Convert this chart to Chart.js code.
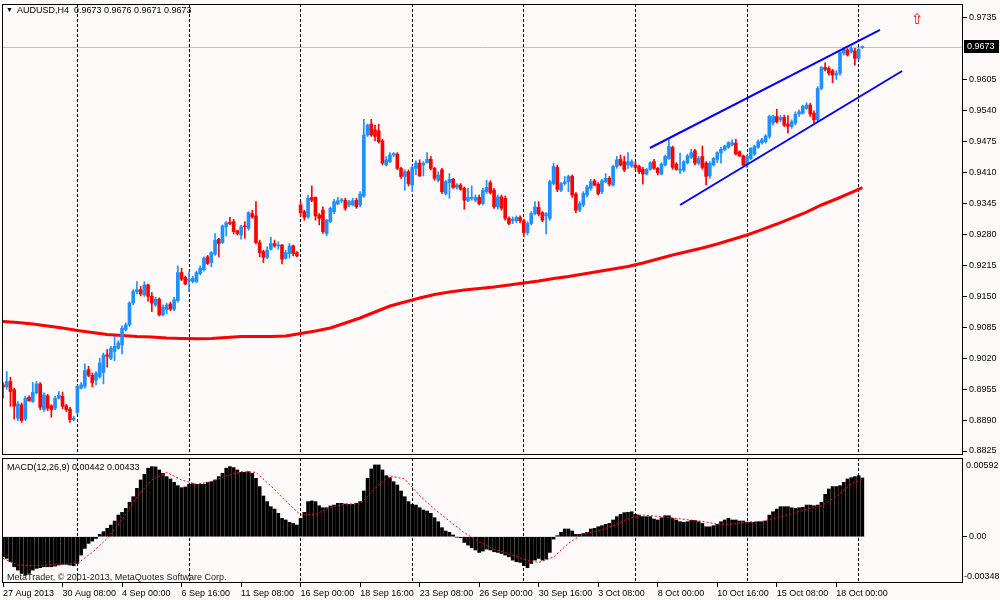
<!DOCTYPE html>
<html>
<head>
<meta charset="utf-8">
<script src="https://cdn.jsdelivr.net/npm/chart.js@4.4.0/dist/chart.umd.min.js"></script>
<style>
  html, body { margin: 0; padding: 0; background: #fffafa; }
  #wrap { position: relative; width: 1000px; height: 600px; overflow: hidden; background: #fffafa;
          font-family: "Liberation Sans", Arial, sans-serif; }
  canvas { position: absolute; left: 0; }
  #mainChart { top: 0; }
  #macdChart { top: 457px; }
  .txt { position: absolute; font-size: 9px; line-height: 10px; color: #000; white-space: nowrap; }
</style>
</head>
<body>
<div id="wrap">
  <canvas id="mainChart" width="1000" height="457"></canvas>
  <canvas id="macdChart" width="1000" height="143"></canvas>
  <div class="txt" style="left:6px;top:5px;font-size:7px;">&#9660;</div>
  <div class="txt" style="left:17px;top:5px;">AUDUSD,H4</div>
  <div class="txt" style="left:74px;top:5px;">0.9673 0.9676 0.9671 0.9673</div>
  <div class="txt" style="left:911px;top:11px;font-size:15px;line-height:16px;color:#ff0000;font-family:'DejaVu Sans';">&#8679;</div>
  <div class="txt" style="left:7px;top:462px;">MACD(12,26,9) 0.00442 0.00433</div>
  <div class="txt" style="left:7px;top:572px;color:#202020;">MetaTrader, &#169; 2001-2013, MetaQuotes Software Corp.</div>
</div>
<script>
/* DATA: AUDUSD H4 candles, one per bar index */
const barOpen = [
  0.8964,0.8960,0.8971,0.8954,0.8894,0.8922,0.8892,0.8938,0.8929,0.8947,
  0.8966,0.8912,0.8941,0.8920,0.8915,0.8936,0.8940,0.8920,0.8913,0.8891,
  0.8906,0.8957,0.8961,0.8996,0.8984,0.8974,0.8981,0.8990,0.9027,0.9020,
  0.9034,0.9041,0.9048,0.9080,0.9090,0.9136,0.9160,0.9164,0.9153,0.9174,
  0.9150,0.9132,0.9144,0.9111,0.9122,0.9134,0.9123,0.9141,0.9200,0.9190,
  0.9183,0.9181,0.9181,0.9198,0.9206,0.9233,0.9221,0.9239,0.9270,0.9263,
  0.9296,0.9305,0.9307,0.9288,0.9279,0.9298,0.9293,0.9324,0.9319,0.9263,
  0.9244,0.9232,0.9249,0.9261,0.9256,0.9258,0.9230,0.9240,0.9256,0.9242,
  0.9342,0.9328,0.9317,0.9358,0.9358,0.9321,0.9331,0.9282,0.9307,0.9328,
  0.9345,0.9351,0.9352,0.9342,0.9342,0.9352,0.9342,0.9361,0.9489,0.9512,
  0.9500,0.9498,0.9477,0.9426,0.9433,0.9447,0.9449,0.9419,0.9402,0.9412,
  0.9384,0.9419,0.9430,0.9426,0.9431,0.9438,0.9419,0.9394,0.9416,0.9366,
  0.9389,0.9396,0.9379,0.9384,0.9377,0.9351,0.9356,0.9352,0.9358,0.9345,
  0.9370,0.9389,0.9373,0.9338,0.9359,0.9356,0.9314,0.9309,0.9309,0.9316,
  0.9309,0.9284,0.9303,0.9324,0.9337,0.9326,0.9319,0.9314,0.9387,0.9421,
  0.9373,0.9387,0.9391,0.9402,0.9365,0.9331,0.9342,0.9363,0.9377,0.9393,
  0.9386,0.9370,0.9391,0.9398,0.9384,0.9423,0.9438,0.9433,0.9426,0.9424,
  0.9426,0.9423,0.9417,0.9407,0.9417,0.9433,0.9419,0.9407,0.9426,0.9440,
  0.9463,0.9428,0.9415,0.9415,0.9431,0.9442,0.9456,0.9430,0.9444,0.9430,
  0.9403,0.9426,0.9438,0.9451,0.9458,0.9463,0.9468,0.9472,0.9454,0.9445,
  0.9428,0.9440,0.9449,0.9463,0.9473,0.9475,0.9486,0.9514,0.9528,0.9521,
  0.9526,0.9512,0.9507,0.9514,0.9533,0.9535,0.9545,0.9552,0.9535,0.9521,
  0.9587,0.9631,0.9629,0.9624,0.9615,0.9619,0.9661,0.9668,0.9664,0.9666,
  0.9650,0.9673
];
const barHigh = [
  0.8969,0.8992,0.8980,0.8957,0.8929,0.8926,0.8940,0.8941,0.8969,0.8971,
  0.8969,0.8947,0.8944,0.8922,0.8940,0.8950,0.8949,0.8923,0.8917,0.8898,
  0.8962,0.8969,0.9008,0.9003,0.8989,0.8992,0.9020,0.9031,0.9038,0.9045,
  0.9066,0.9057,0.9088,0.9094,0.9139,0.9164,0.9181,0.9171,0.9181,0.9176,
  0.9158,0.9148,0.9147,0.9132,0.9136,0.9138,0.9148,0.9214,0.9209,0.9193,
  0.9202,0.9192,0.9203,0.9214,0.9233,0.9236,0.9244,0.9282,0.9272,0.9300,
  0.9307,0.9316,0.9312,0.9289,0.9300,0.9307,0.9328,0.9331,0.9349,0.9268,
  0.9247,0.9254,0.9274,0.9268,0.9265,0.9259,0.9247,0.9261,0.9258,0.9244,
  0.9349,0.9331,0.9363,0.9382,0.9359,0.9324,0.9338,0.9312,0.9338,0.9354,
  0.9358,0.9356,0.9356,0.9352,0.9356,0.9356,0.9370,0.9522,0.9512,0.9522,
  0.9510,0.9512,0.9480,0.9444,0.9452,0.9452,0.9452,0.9421,0.9416,0.9416,
  0.9424,0.9435,0.9437,0.9433,0.9452,0.9444,0.9421,0.9412,0.9419,0.9394,
  0.9408,0.9398,0.9387,0.9387,0.9380,0.9377,0.9382,0.9363,0.9363,0.9377,
  0.9394,0.9393,0.9377,0.9363,0.9363,0.9361,0.9317,0.9317,0.9319,0.9319,
  0.9312,0.9307,0.9328,0.9349,0.9349,0.9328,0.9326,0.9394,0.9430,0.9426,
  0.9389,0.9402,0.9405,0.9405,0.9368,0.9349,0.9370,0.9384,0.9396,0.9396,
  0.9389,0.9396,0.9408,0.9402,0.9426,0.9444,0.9447,0.9444,0.9452,0.9437,
  0.9433,0.9426,0.9421,0.9419,0.9433,0.9438,0.9421,0.9431,0.9447,0.9479,
  0.9466,0.9431,0.9451,0.9435,0.9449,0.9459,0.9459,0.9444,0.9466,0.9433,
  0.9433,0.9442,0.9454,0.9463,0.9468,0.9475,0.9479,0.9480,0.9456,0.9447,
  0.9447,0.9463,0.9468,0.9479,0.9482,0.9490,0.9531,0.9531,0.9543,0.9530,
  0.9531,0.9530,0.9521,0.9538,0.9542,0.9552,0.9557,0.9556,0.9540,0.9591,
  0.9633,0.9641,0.9633,0.9627,0.9624,0.9664,0.9673,0.9671,0.9675,0.9671,
  0.9673,0.9676
];
const barLow = [
  0.8936,0.8955,0.8919,0.8892,0.8889,0.8885,0.8889,0.8929,0.8927,0.8945,
  0.8912,0.8908,0.8910,0.8896,0.8912,0.8934,0.8914,0.8908,0.8885,0.8888,
  0.8903,0.8955,0.8957,0.8981,0.8960,0.8964,0.8978,0.8966,0.9001,0.9017,
  0.9015,0.9039,0.9029,0.9077,0.9087,0.9132,0.9155,0.9151,0.9150,0.9140,
  0.9118,0.9129,0.9109,0.9109,0.9113,0.9120,0.9120,0.9138,0.9183,0.9174,
  0.9160,0.9178,0.9179,0.9195,0.9203,0.9217,0.9212,0.9236,0.9233,0.9261,
  0.9277,0.9300,0.9281,0.9279,0.9270,0.9272,0.9289,0.9314,0.9260,0.9233,
  0.9221,0.9229,0.9247,0.9253,0.9249,0.9218,0.9228,0.9230,0.9235,0.9233,
  0.9319,0.9310,0.9314,0.9349,0.9310,0.9300,0.9282,0.9277,0.9305,0.9324,
  0.9342,0.9347,0.9331,0.9338,0.9340,0.9335,0.9338,0.9358,0.9486,0.9486,
  0.9477,0.9472,0.9426,0.9424,0.9431,0.9444,0.9416,0.9398,0.9373,0.9382,
  0.9370,0.9405,0.9402,0.9403,0.9430,0.9416,0.9394,0.9391,0.9366,0.9363,
  0.9356,0.9377,0.9375,0.9373,0.9333,0.9349,0.9352,0.9349,0.9342,0.9342,
  0.9366,0.9365,0.9335,0.9333,0.9331,0.9310,0.9300,0.9303,0.9305,0.9305,
  0.9275,0.9279,0.9300,0.9321,0.9319,0.9307,0.9281,0.9310,0.9384,0.9370,
  0.9370,0.9384,0.9370,0.9358,0.9326,0.9328,0.9338,0.9359,0.9373,0.9382,
  0.9363,0.9366,0.9389,0.9382,0.9382,0.9419,0.9424,0.9412,0.9419,0.9421,
  0.9416,0.9408,0.9386,0.9405,0.9415,0.9417,0.9405,0.9405,0.9424,0.9438,
  0.9417,0.9415,0.9408,0.9412,0.9428,0.9440,0.9426,0.9426,0.9417,0.9384,
  0.9398,0.9424,0.9431,0.9430,0.9456,0.9461,0.9466,0.9447,0.9444,0.9424,
  0.9421,0.9437,0.9446,0.9461,0.9470,0.9472,0.9482,0.9510,0.9514,0.9517,
  0.9507,0.9493,0.9503,0.9510,0.9528,0.9533,0.9543,0.9528,0.9514,0.9517,
  0.9584,0.9624,0.9615,0.9599,0.9606,0.9615,0.9657,0.9655,0.9661,0.9636,
  0.9648,0.9671
];
const barClose = [
  0.8960,0.8971,0.8950,0.8919,0.8924,0.8889,0.8936,0.8931,0.8948,0.8966,
  0.8917,0.8943,0.8915,0.8912,0.8936,0.8942,0.8919,0.8912,0.8891,0.8894,
  0.8961,0.8964,0.8994,0.8984,0.8968,0.8989,0.9010,0.9027,0.9024,0.9041,
  0.9045,0.9052,0.9083,0.9090,0.9136,0.9160,0.9164,0.9155,0.9174,0.9150,
  0.9136,0.9144,0.9111,0.9127,0.9132,0.9123,0.9143,0.9200,0.9186,0.9176,
  0.9186,0.9188,0.9200,0.9209,0.9230,0.9219,0.9242,0.9268,0.9261,0.9298,
  0.9305,0.9303,0.9286,0.9282,0.9296,0.9296,0.9326,0.9317,0.9263,0.9242,
  0.9232,0.9247,0.9261,0.9256,0.9258,0.9228,0.9242,0.9256,0.9240,0.9235,
  0.9326,0.9316,0.9356,0.9352,0.9319,0.9314,0.9286,0.9310,0.9335,0.9349,
  0.9351,0.9352,0.9335,0.9349,0.9351,0.9338,0.9365,0.9489,0.9510,0.9489,
  0.9486,0.9475,0.9430,0.9437,0.9447,0.9450,0.9419,0.9402,0.9412,0.9387,
  0.9421,0.9430,0.9403,0.9430,0.9438,0.9419,0.9398,0.9405,0.9370,0.9391,
  0.9396,0.9379,0.9384,0.9375,0.9352,0.9358,0.9358,0.9358,0.9345,0.9373,
  0.9379,0.9368,0.9338,0.9359,0.9335,0.9314,0.9303,0.9312,0.9316,0.9309,
  0.9284,0.9303,0.9324,0.9338,0.9323,0.9310,0.9324,0.9391,0.9423,0.9375,
  0.9387,0.9391,0.9402,0.9363,0.9331,0.9345,0.9366,0.9380,0.9391,0.9384,
  0.9366,0.9393,0.9398,0.9386,0.9423,0.9437,0.9426,0.9416,0.9433,0.9433,
  0.9421,0.9412,0.9407,0.9417,0.9431,0.9419,0.9410,0.9428,0.9444,0.9465,
  0.9421,0.9417,0.9417,0.9433,0.9445,0.9452,0.9430,0.9440,0.9421,0.9402,
  0.9430,0.9440,0.9452,0.9459,0.9466,0.9473,0.9473,0.9449,0.9445,0.9426,
  0.9444,0.9461,0.9465,0.9475,0.9479,0.9487,0.9528,0.9528,0.9517,0.9526,
  0.9510,0.9507,0.9517,0.9533,0.9538,0.9549,0.9552,0.9533,0.9521,0.9587,
  0.9631,0.9627,0.9619,0.9615,0.9619,0.9662,0.9669,0.9657,0.9671,0.9650,
  0.9669,0.9673
];

/* moving average, read every 4th bar */
const maBars = [0,4,8,12,16,20,24,28,32,36,40,44,48,52,56,60,64,68,72,76,
  80,84,88,92,96,100,104,108,112,116,120,124,128,132,136,140,144,148,152,156,
  160,164,168,172,176,180,184,188,192,196,200,204,208,212,216,220,224,228,231];
const maValues = [0.90971,0.90950,0.90919,0.90877,0.90835,0.90782,0.90740,0.90698,0.90677,0.90656,
  0.90645,0.90624,0.90614,0.90607,0.90614,0.90635,0.90656,0.90656,0.90656,0.90666,
  0.90719,0.90771,0.90835,0.90940,0.91045,0.91171,0.91297,0.91381,0.91465,0.91539,
  0.91591,0.91633,0.91665,0.91696,0.91738,0.91780,0.91822,0.91875,0.91917,0.91969,
  0.92022,0.92074,0.92127,0.92201,0.92285,0.92369,0.92442,0.92516,0.92600,0.92694,
  0.92789,0.92904,0.93020,0.93146,0.93272,0.93420,0.93546,0.93682,0.93787];

/* hand-drawn channel (bar index, price) */
const channelUpperBars = [173.9, 235.75];
const channelUpperPrices = [0.94618, 0.97098];
const channelLowerBars = [182.0, 241.7];
const channelLowerPrices = [0.93420, 0.96236];

const bidPrice = 0.9673;
const priceTicks = [0.8825,0.8890,0.8955,0.9020,0.9085,0.9150,0.9215,0.9280,
  0.9345,0.9410,0.9475,0.9540,0.9605,0.9735];

/* MACD(12,26,9) */
const macdHist = [
  -0.00151,-0.00163,-0.00188,-0.00226,-0.00251,-0.00276,-0.00289,-0.00276,-0.00251,-0.00238,
  -0.00233,-0.00226,-0.00226,-0.00226,-0.00221,-0.00213,-0.00208,-0.00208,-0.00213,-0.00218,
  -0.00201,-0.00138,-0.00088,-0.00050,-0.00033,-0.00013,0.00018,0.00038,0.00063,0.00088,
  0.00118,0.00163,0.00183,0.00213,0.00259,0.00301,0.00364,0.00427,0.00469,0.00515,
  0.00527,0.00525,0.00502,0.00477,0.00452,0.00434,0.00409,0.00384,0.00369,0.00374,
  0.00394,0.00399,0.00394,0.00394,0.00394,0.00409,0.00414,0.00427,0.00452,0.00477,
  0.00515,0.00527,0.00520,0.00502,0.00484,0.00484,0.00489,0.00477,0.00439,0.00377,
  0.00306,0.00264,0.00226,0.00208,0.00176,0.00138,0.00126,0.00108,0.00100,0.00088,
  0.00138,0.00183,0.00264,0.00269,0.00264,0.00233,0.00218,0.00218,0.00231,0.00238,
  0.00251,0.00251,0.00246,0.00243,0.00243,0.00251,0.00264,0.00344,0.00439,0.00510,
  0.00540,0.00540,0.00502,0.00459,0.00444,0.00414,0.00389,0.00344,0.00301,0.00264,
  0.00243,0.00238,0.00218,0.00201,0.00193,0.00176,0.00143,0.00113,0.00068,0.00043,
  0.00033,0.00013,-0.00003,-0.00008,-0.00043,-0.00063,-0.00083,-0.00100,-0.00118,-0.00108,
  -0.00093,-0.00100,-0.00113,-0.00118,-0.00126,-0.00138,-0.00151,-0.00176,-0.00188,-0.00193,
  -0.00218,-0.00233,-0.00201,-0.00176,-0.00163,-0.00176,-0.00168,-0.00118,-0.00018,0.00008,
  0.00033,0.00058,0.00058,0.00043,0.00018,0.00018,0.00025,0.00033,0.00058,0.00063,
  0.00075,0.00083,0.00093,0.00100,0.00126,0.00151,0.00168,0.00181,0.00183,0.00188,
  0.00168,0.00163,0.00151,0.00151,0.00151,0.00133,0.00126,0.00143,0.00158,0.00158,
  0.00138,0.00126,0.00113,0.00108,0.00113,0.00123,0.00123,0.00113,0.00100,0.00075,
  0.00075,0.00083,0.00093,0.00113,0.00126,0.00138,0.00126,0.00126,0.00118,0.00118,
  0.00108,0.00108,0.00108,0.00113,0.00113,0.00118,0.00163,0.00188,0.00208,0.00226,
  0.00226,0.00226,0.00218,0.00213,0.00218,0.00221,0.00238,0.00238,0.00233,0.00238,
  0.00259,0.00319,0.00359,0.00377,0.00377,0.00384,0.00409,0.00434,0.00444,0.00452,
  0.00459,0.00442
];
const signalBars = maBars;
const signalValues = [-0.00163,-0.00213,-0.00218,-0.00213,-0.00206,-0.00201,-0.00118,-0.00013,0.00126,0.00301,
  0.00427,0.00484,0.00427,0.00394,0.00414,0.00457,0.00489,0.00484,0.00382,0.00269,
  0.00163,0.00168,0.00221,0.00246,0.00246,0.00364,0.00457,0.00434,0.00309,0.00208,
  0.00118,0.00030,-0.00038,-0.00095,-0.00128,-0.00171,-0.00193,-0.00153,-0.00050,0.00023,
  0.00043,0.00083,0.00136,0.00163,0.00153,0.00141,0.00128,0.00115,0.00095,0.00095,
  0.00110,0.00115,0.00143,0.00173,0.00206,0.00231,0.00301,0.00397,0.00433];
const macdMax = 0.00592;
const macdMin = -0.00348;

/* time axis */
const timeLabels = ["27 Aug 2013","30 Aug 08:00","4 Sep 00:00","6 Sep 16:00","11 Sep 08:00",
  "16 Sep 00:00","18 Sep 16:00","23 Sep 08:00","26 Sep 00:00","30 Sep 16:00",
  "3 Oct 08:00","8 Oct 00:00","10 Oct 16:00","15 Oct 08:00","18 Oct 00:00"];
const barsPerLabel = 16;
const gridBars = [20,50,80,110,140,170,200,230];

/* VIEW */
const xMin = -0.27, xMax = 258.06;
const FONT = "'Liberation Sans', Arial, sans-serif";
Chart.defaults.font.family = FONT;
Chart.defaults.font.size = 9;
Chart.defaults.color = "#000";

const bull = "#1e90ff", bear = "#ff0000";
const candleColor = barOpen.map((o, i) => (barClose[i] >= o ? bull : bear));

// axes must not reserve extra room for their first/last label
function noPad(ax) {
  ax.paddingTop = 0; ax.paddingBottom = 0;
  ax.paddingLeft = 0; ax.paddingRight = 0;
}

const framePlugin = {
  id: "frame",
  afterDraw(chart) {
    const { ctx, chartArea: a } = chart;
    ctx.save();
    ctx.strokeStyle = "#000";
    ctx.lineWidth = 1;
    ctx.strokeRect(a.left + 0.5, a.top + 0.5, a.width - 1, a.height - 1);
    ctx.restore();
  },
};

const bidTag = {
  id: "bidTag",
  afterDraw(chart) {
    const { ctx, chartArea: a, scales } = chart;
    const py = Math.round(scales.y.getPixelForValue(bidPrice));
    ctx.save();
    ctx.fillStyle = "#000";
    ctx.fillRect(a.right + 1, py - 7, 35, 13);
    ctx.fillStyle = "#fff";
    ctx.font = "9px " + FONT;
    ctx.textBaseline = "middle";
    ctx.fillText(bidPrice.toFixed(4), a.right + 4, py);
    ctx.restore();
  },
};

const macdEdges = {
  id: "macdEdges",
  afterDraw(chart) {
    const { ctx, chartArea: a, scales } = chart;
    ctx.save();
    ctx.fillStyle = "#000";
    ctx.font = "9px " + FONT;
    ctx.textBaseline = "middle";
    ctx.fillText(macdMax.toFixed(5), a.right + 3, scales.y.getPixelForValue(macdMax) + 8);
    ctx.fillText(macdMin.toFixed(5), a.right + 1, scales.y.getPixelForValue(macdMin) - 6);
    ctx.restore();
  },
};

const dashedGridAxis = {
  type: "linear",
  min: xMin,
  max: xMax,
  offset: false,
  afterBuildTicks: (ax) => { ax.ticks = gridBars.map((v) => ({ value: v })); },
  afterFit: (ax) => { ax.height = 0; noPad(ax); },
  ticks: { display: false },
  grid: { color: "#000", lineWidth: 1, drawTicks: false, offset: false },
  border: { display: false, dash: [3, 2] },
};

/* MAIN PRICE CHART */
new Chart(document.getElementById("mainChart"), {
  type: "bar",
  data: {
    datasets: [
      {
        type: "line", order: 0,
        data: channelUpperBars.map((b, i) => ({ x: b, y: channelUpperPrices[i] })),
        borderColor: "#0000ff", borderWidth: 2, pointRadius: 0,
      },
      {
        type: "line", order: 0,
        data: channelLowerBars.map((b, i) => ({ x: b, y: channelLowerPrices[i] })),
        borderColor: "#0000ff", borderWidth: 2, pointRadius: 0,
      },
      {
        order: 1,
        data: barOpen.map((o, i) => ({ x: i, y: [o, barClose[i]] })),
        backgroundColor: candleColor,
        barThickness: 3, minBarLength: 1, grouped: false,
      },
      {
        order: 2,
        data: barLow.map((l, i) => ({ x: i, y: [l, barHigh[i]] })),
        backgroundColor: candleColor,
        barThickness: 1, grouped: false,
      },
      {
        type: "line", order: 3,
        data: maBars.map((b, i) => ({ x: b, y: maValues[i] })),
        borderColor: "#ff0000", borderWidth: 3, pointRadius: 0,
      },
      {
        type: "line", order: 4,
        data: [{ x: xMin, y: bidPrice }, { x: xMax, y: bidPrice }],
        borderColor: "#c0c0c0", borderWidth: 1, pointRadius: 0,
      },
    ],
  },
  options: {
    responsive: false,
    animation: false,
    layout: { autoPadding: false, padding: { left: 2, top: 4, right: 0, bottom: 2 } },
    plugins: { legend: { display: false }, tooltip: { enabled: false } },
    scales: {
      x: dashedGridAxis,
      y: {
        position: "right",
        min: 0.88166,
        max: 0.97644,
        afterBuildTicks: (ax) => { ax.ticks = priceTicks.map((v) => ({ value: v })); },
        afterFit: (ax) => { ax.width = 37; noPad(ax); },
        ticks: { callback: (v) => v.toFixed(4), padding: 2, autoSkip: false },
        grid: { drawOnChartArea: false, drawTicks: true, tickLength: 4, color: "#000" },
        border: { display: false },
      },
    },
  },
  plugins: [framePlugin, bidTag],
});

/* MACD PANEL */
new Chart(document.getElementById("macdChart"), {
  type: "bar",
  data: {
    datasets: [
      {
        type: "line", order: 0,
        data: signalBars.map((b, i) => ({ x: b, y: signalValues[i] })),
        borderColor: "#ff0000", borderWidth: 1, borderDash: [2, 2], pointRadius: 0,
      },
      {
        order: 1,
        data: macdHist.map((v, i) => ({ x: i, y: v })),
        backgroundColor: "#000",
        barThickness: 3, grouped: false,
      },
    ],
  },
  options: {
    responsive: false,
    animation: false,
    layout: { autoPadding: false, padding: { left: 2, top: 1, right: 0, bottom: 0 } },
    plugins: { legend: { display: false }, tooltip: { enabled: false } },
    scales: {
      x: dashedGridAxis,
      xt: {
        type: "linear",
        position: "bottom",
        min: xMin,
        max: xMax,
        offset: false,
        afterBuildTicks: (ax) => {
          ax.ticks = timeLabels.map((t, k) => ({ value: k * barsPerLabel }));
        },
        afterFit: (ax) => { ax.height = 17; noPad(ax); },
        ticks: {
          callback: (v, idx) => timeLabels[idx],
          align: "start",
          autoSkip: false,
          maxRotation: 0,
          minRotation: 0,
          padding: 1,
        },
        grid: { drawOnChartArea: false, drawTicks: true, tickLength: 4, color: "#000", offset: false },
        border: { display: false },
      },
      y: {
        position: "right",
        min: macdMin,
        max: macdMax,
        afterBuildTicks: (ax) => { ax.ticks = [{ value: 0 }]; },
        afterFit: (ax) => { ax.width = 37; noPad(ax); },
        ticks: { callback: () => "0.00", padding: 2 },
        grid: { drawOnChartArea: false, drawTicks: true, tickLength: 4, color: "#000" },
        border: { display: false },
      },
    },
  },
  plugins: [framePlugin, macdEdges],
});
</script>
</body>
</html>
